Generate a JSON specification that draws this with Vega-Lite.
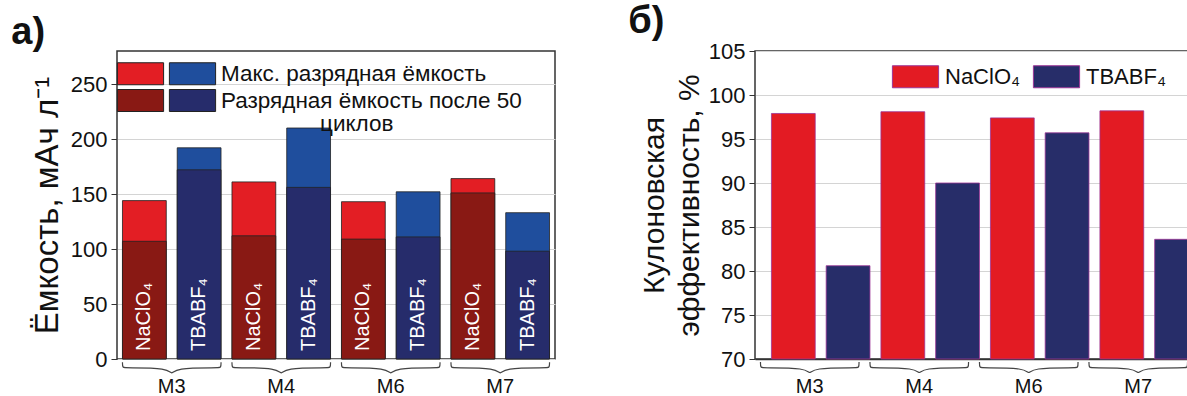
{
  "$schema": "https://vega.github.io/schema/vega-lite/v6.json",
  "padding": {"left": 10, "top": 2, "right": 0, "bottom": 0},
  "background": "white",
  "config": {
    "font": "Liberation Sans",
    "view": {"stroke": "#333", "strokeWidth": 1.5},
    "axis": {"labelFont": "Liberation Sans", "titleFont": "Liberation Sans", "labelColor": "#111", "titleColor": "#111", "titleFontWeight": "normal", "domainColor": "#333", "tickColor": "#333", "gridColor": "#d4d4d4", "labelFontSize": 22, "titleFontSize": 30},
    "title": {"font": "Liberation Sans", "fontSize": 38, "fontWeight": "bold", "color": "#111", "anchor": "start", "frame": "bounds"},
    "legend": {"labelFont": "Liberation Sans"},
    "style": {"guide-label": {"lineHeight": 23}}
  },
  "resolve": {"scale": {"color": "independent"}, "legend": {"color": "independent"}},
  "datasets": {
    "capacity": [
      {"group": "M3", "electrolyte": "NaClO₄", "stage": "max", "series": "NaClO4 max", "capacity": 144},
      {"group": "M3", "electrolyte": "TBABF₄", "stage": "max", "series": "TBABF4 max", "capacity": 192},
      {"group": "M4", "electrolyte": "NaClO₄", "stage": "max", "series": "NaClO4 max", "capacity": 161},
      {"group": "M4", "electrolyte": "TBABF₄", "stage": "max", "series": "TBABF4 max", "capacity": 210},
      {"group": "M6", "electrolyte": "NaClO₄", "stage": "max", "series": "NaClO4 max", "capacity": 143},
      {"group": "M6", "electrolyte": "TBABF₄", "stage": "max", "series": "TBABF4 max", "capacity": 152},
      {"group": "M7", "electrolyte": "NaClO₄", "stage": "max", "series": "NaClO4 max", "capacity": 164},
      {"group": "M7", "electrolyte": "TBABF₄", "stage": "max", "series": "TBABF4 max", "capacity": 133},
      {"group": "M3", "electrolyte": "NaClO₄", "stage": "after", "series": "NaClO4 after", "capacity": 107},
      {"group": "M3", "electrolyte": "TBABF₄", "stage": "after", "series": "TBABF4 after", "capacity": 172},
      {"group": "M4", "electrolyte": "NaClO₄", "stage": "after", "series": "NaClO4 after", "capacity": 112},
      {"group": "M4", "electrolyte": "TBABF₄", "stage": "after", "series": "TBABF4 after", "capacity": 156},
      {"group": "M6", "electrolyte": "NaClO₄", "stage": "after", "series": "NaClO4 after", "capacity": 109},
      {"group": "M6", "electrolyte": "TBABF₄", "stage": "after", "series": "TBABF4 after", "capacity": 111},
      {"group": "M7", "electrolyte": "NaClO₄", "stage": "after", "series": "NaClO4 after", "capacity": 151},
      {"group": "M7", "electrolyte": "TBABF₄", "stage": "after", "series": "TBABF4 after", "capacity": 98}
    ],
    "efficiency": [
      {"group": "M3", "electrolyte": "NaClO₄", "efficiency": 97.9},
      {"group": "M3", "electrolyte": "TBABF₄", "efficiency": 80.6},
      {"group": "M4", "electrolyte": "NaClO₄", "efficiency": 98.1},
      {"group": "M4", "electrolyte": "TBABF₄", "efficiency": 90.0},
      {"group": "M6", "electrolyte": "NaClO₄", "efficiency": 97.4},
      {"group": "M6", "electrolyte": "TBABF₄", "efficiency": 95.7},
      {"group": "M7", "electrolyte": "NaClO₄", "efficiency": 98.2},
      {"group": "M7", "electrolyte": "TBABF₄", "efficiency": 83.6}
    ],
    "bracesA": [
      {"g": "M3", "k": 1, "bx": 0.1, "by": -3}, {"g": "M3", "k": 2, "bx": 0.1, "by": -8}, {"g": "M3", "k": 3, "bx": 0.16, "by": -8}, {"g": "M3", "k": 4, "bx": 0.94, "by": -8}, {"g": "M3", "k": 5, "bx": 1, "by": -15}, {"g": "M3", "k": 6, "bx": 1.06, "by": -8}, {"g": "M3", "k": 7, "bx": 1.84, "by": -8}, {"g": "M3", "k": 8, "bx": 1.9, "by": -8}, {"g": "M3", "k": 9, "bx": 1.9, "by": -3},
      {"g": "M4", "k": 1, "bx": 2.1, "by": -3}, {"g": "M4", "k": 2, "bx": 2.1, "by": -8}, {"g": "M4", "k": 3, "bx": 2.16, "by": -8}, {"g": "M4", "k": 4, "bx": 2.94, "by": -8}, {"g": "M4", "k": 5, "bx": 3, "by": -15}, {"g": "M4", "k": 6, "bx": 3.06, "by": -8}, {"g": "M4", "k": 7, "bx": 3.84, "by": -8}, {"g": "M4", "k": 8, "bx": 3.9, "by": -8}, {"g": "M4", "k": 9, "bx": 3.9, "by": -3},
      {"g": "M6", "k": 1, "bx": 4.1, "by": -3}, {"g": "M6", "k": 2, "bx": 4.1, "by": -8}, {"g": "M6", "k": 3, "bx": 4.16, "by": -8}, {"g": "M6", "k": 4, "bx": 4.94, "by": -8}, {"g": "M6", "k": 5, "bx": 5, "by": -15}, {"g": "M6", "k": 6, "bx": 5.06, "by": -8}, {"g": "M6", "k": 7, "bx": 5.84, "by": -8}, {"g": "M6", "k": 8, "bx": 5.9, "by": -8}, {"g": "M6", "k": 9, "bx": 5.9, "by": -3},
      {"g": "M7", "k": 1, "bx": 6.1, "by": -3}, {"g": "M7", "k": 2, "bx": 6.1, "by": -8}, {"g": "M7", "k": 3, "bx": 6.16, "by": -8}, {"g": "M7", "k": 4, "bx": 6.94, "by": -8}, {"g": "M7", "k": 5, "bx": 7, "by": -15}, {"g": "M7", "k": 6, "bx": 7.06, "by": -8}, {"g": "M7", "k": 7, "bx": 7.84, "by": -8}, {"g": "M7", "k": 8, "bx": 7.9, "by": -8}, {"g": "M7", "k": 9, "bx": 7.9, "by": -3}
    ],
    "bracesB": [
      {"g": "M3", "k": 1, "bx": 0.05, "by": 69.66}, {"g": "M3", "k": 2, "bx": 0.05, "by": 69.0}, {"g": "M3", "k": 3, "bx": 0.08, "by": 69.0}, {"g": "M3", "k": 4, "bx": 0.47, "by": 69.0}, {"g": "M3", "k": 5, "bx": 0.5, "by": 68.2}, {"g": "M3", "k": 6, "bx": 0.53, "by": 69.0}, {"g": "M3", "k": 7, "bx": 0.92, "by": 69.0}, {"g": "M3", "k": 8, "bx": 0.95, "by": 69.0}, {"g": "M3", "k": 9, "bx": 0.95, "by": 69.66},
      {"g": "M4", "k": 1, "bx": 1.05, "by": 69.66}, {"g": "M4", "k": 2, "bx": 1.05, "by": 69.0}, {"g": "M4", "k": 3, "bx": 1.08, "by": 69.0}, {"g": "M4", "k": 4, "bx": 1.47, "by": 69.0}, {"g": "M4", "k": 5, "bx": 1.5, "by": 68.2}, {"g": "M4", "k": 6, "bx": 1.53, "by": 69.0}, {"g": "M4", "k": 7, "bx": 1.92, "by": 69.0}, {"g": "M4", "k": 8, "bx": 1.95, "by": 69.0}, {"g": "M4", "k": 9, "bx": 1.95, "by": 69.66},
      {"g": "M6", "k": 1, "bx": 2.05, "by": 69.66}, {"g": "M6", "k": 2, "bx": 2.05, "by": 69.0}, {"g": "M6", "k": 3, "bx": 2.08, "by": 69.0}, {"g": "M6", "k": 4, "bx": 2.47, "by": 69.0}, {"g": "M6", "k": 5, "bx": 2.5, "by": 68.2}, {"g": "M6", "k": 6, "bx": 2.53, "by": 69.0}, {"g": "M6", "k": 7, "bx": 2.92, "by": 69.0}, {"g": "M6", "k": 8, "bx": 2.95, "by": 69.0}, {"g": "M6", "k": 9, "bx": 2.95, "by": 69.66},
      {"g": "M7", "k": 1, "bx": 3.05, "by": 69.66}, {"g": "M7", "k": 2, "bx": 3.05, "by": 69.0}, {"g": "M7", "k": 3, "bx": 3.08, "by": 69.0}, {"g": "M7", "k": 4, "bx": 3.47, "by": 69.0}, {"g": "M7", "k": 5, "bx": 3.5, "by": 68.2}, {"g": "M7", "k": 6, "bx": 3.53, "by": 69.0}, {"g": "M7", "k": 7, "bx": 3.92, "by": 69.0}, {"g": "M7", "k": 8, "bx": 3.95, "by": 69.0}, {"g": "M7", "k": 9, "bx": 3.95, "by": 69.66}
    ]
  },
  "spacing": 71,
  "hconcat": [
    {
      "title": {"text": "а)", "dx": -20, "offset": -1},
      "width": 438,
      "height": 308,
      "resolve": {"scale": {"x": "independent"}},
      "layer": [
        {
          "data": {"name": "capacity"},
          "encoding": {
            "x": {"field": "group", "type": "nominal", "scale": {"paddingInner": 0, "paddingOuter": 0}, "axis": {"title": null, "labelAngle": 0, "ticks": false, "domain": false, "labelPadding": 17, "labelFontSize": 20}},
            "xOffset": {"field": "electrolyte", "type": "nominal", "scale": {"paddingInner": 0.2, "paddingOuter": 0.1}},
            "y": {"field": "capacity", "type": "quantitative", "stack": null, "scale": {"domain": [0, 280], "nice": false},
              "axis": {"title": "Ёмкость, мАч л⁻¹", "titleFontSize": 33, "values": [0, 25, 50, 75, 100, 125, 150, 175, 200, 225, 250, 275], "labelExpr": "datum.value % 50 === 0 ? datum.label : ''", "grid": true, "gridOpacity": {"condition": {"test": "datum.value % 50 === 0", "value": 1}, "value": 0}, "tickSize": {"condition": {"test": "datum.value % 50 === 0", "value": 6}, "value": 3.5}, "labelPadding": 4, "titlePadding": 6, "domain": false}}
          },
          "layer": [
            {
              "transform": [{"filter": {"field": "stage", "equal": "max"}}],
              "mark": {"type": "bar", "stroke": "#222", "strokeWidth": 0.8},
              "encoding": {
                "color": {"field": "series", "type": "nominal", "scale": {"domain": ["NaClO4 max", "NaClO4 after", "TBABF4 max", "TBABF4 after"], "range": ["#e31e24", "#891914", "#1f4e9d", "#262c6b"]},
                  "legend": {"orient": "none", "legendX": 0, "legendY": 11, "columns": 2, "direction": "vertical", "title": null, "padding": 0, "symbolType": "M-2.1,-1H2.1V1H-2.1Z", "symbolSize": 484, "symbolOffset": 12, "symbolStrokeColor": "#222", "symbolStrokeWidth": 1, "symbolOpacity": 1, "labelFontSize": 22.5, "labelColor": "#111", "labelOffset": 17, "labelLimit": 500, "columnPadding": -2, "rowPadding": 0,
                    "labelExpr": "datum.value === 'TBABF4 max' ? 'Макс. разрядная ёмкость' : datum.value === 'TBABF4 after' ? ['Разрядная ёмкость после 50', '\u200b\u2002\u2002\u2002\u2002\u2002\u2002\u2002\u2002\u2009\u2009циклов'] : ''"}}
              }
            },
            {
              "transform": [{"filter": {"field": "stage", "equal": "after"}}],
              "mark": {"type": "bar", "stroke": "#222", "strokeWidth": 0.8},
              "encoding": {
                "color": {"field": "series", "type": "nominal", "scale": {"domain": ["NaClO4 max", "NaClO4 after", "TBABF4 max", "TBABF4 after"], "range": ["#e31e24", "#891914", "#1f4e9d", "#262c6b"]}}
              }
            },
            {
              "transform": [{"filter": {"field": "stage", "equal": "after"}}],
              "mark": {"type": "text", "angle": 270, "align": "left", "baseline": "middle", "dx": 8, "color": "white", "fontSize": 20},
              "encoding": {
                "y": {"datum": 0},
                "text": {"field": "electrolyte"}
              }
            }
          ]
        },
        {
          "data": {"name": "bracesA"},
          "mark": {"type": "line", "interpolate": "basis", "color": "#444", "strokeWidth": 1.2, "clip": false},
          "encoding": {
            "x": {"field": "bx", "type": "quantitative", "scale": {"domain": [0, 8], "nice": false, "zero": false}, "axis": null},
            "y": {"field": "by", "type": "quantitative", "scale": {"domain": [0, 280], "nice": false}},
            "detail": {"field": "g"},
            "order": {"field": "k"}
          }
        }
      ]
    },
    {
      "title": {"text": "б)", "dx": -11, "offset": -1},
      "width": 438,
      "height": 308,
      "resolve": {"scale": {"x": "independent"}},
      "layer": [
        {
          "data": {"name": "efficiency"},
          "mark": {"type": "bar", "stroke": "#9c3596", "strokeWidth": 0.8},
          "encoding": {
            "x": {"field": "group", "type": "nominal", "scale": {"paddingInner": 0.2, "paddingOuter": 0.1}, "axis": {"title": null, "labelAngle": 0, "ticks": false, "domain": true, "domainWidth": 1.5, "labelPadding": 17, "labelFontSize": 20}},
            "xOffset": {"field": "electrolyte", "type": "nominal", "scale": {"paddingInner": 0, "paddingOuter": 0}},
            "y": {"field": "efficiency", "type": "quantitative", "scale": {"domain": [70, 105], "nice": false, "zero": false},
              "axis": {"title": ["Кулоновская", "эффективность, %"], "titleFontSize": 30, "titleLineHeight": 35, "values": [70, 72.5, 75, 77.5, 80, 82.5, 85, 87.5, 90, 92.5, 95, 97.5, 100, 102.5, 105], "labelExpr": "datum.value % 5 === 0 ? datum.label : ''", "grid": true, "gridOpacity": {"condition": {"test": "datum.value % 5 === 0", "value": 1}, "value": 0}, "tickSize": {"condition": {"test": "datum.value % 5 === 0", "value": 6}, "value": 3.5}, "labelPadding": 4, "titlePadding": 4, "domain": false}},
            "y2": {"datum": 70},
            "color": {"field": "electrolyte", "type": "nominal", "scale": {"domain": ["NaClO₄", "TBABF₄"], "range": ["#e31b23", "#272d69"]},
              "legend": {"orient": "none", "legendX": 137, "legendY": 14, "direction": "horizontal", "title": null, "padding": 0, "symbolType": "M-2.1,-1H2.1V1H-2.1Z", "symbolSize": 484, "symbolOffset": 12, "symbolStrokeColor": "#9c3596", "symbolStrokeWidth": 1, "symbolOpacity": 1, "labelFontSize": 22, "labelColor": "#111", "labelOffset": 18, "columnPadding": 11}}
          }
        },
        {
          "data": {"name": "bracesB"},
          "mark": {"type": "line", "interpolate": "basis", "color": "#444", "strokeWidth": 1.2, "clip": false},
          "encoding": {
            "x": {"field": "bx", "type": "quantitative", "scale": {"domain": [0, 4], "nice": false, "zero": false}, "axis": null},
            "y": {"field": "by", "type": "quantitative", "scale": {"domain": [70, 105], "nice": false, "zero": false}},
            "detail": {"field": "g"},
            "order": {"field": "k"}
          }
        }
      ]
    }
  ]
}
